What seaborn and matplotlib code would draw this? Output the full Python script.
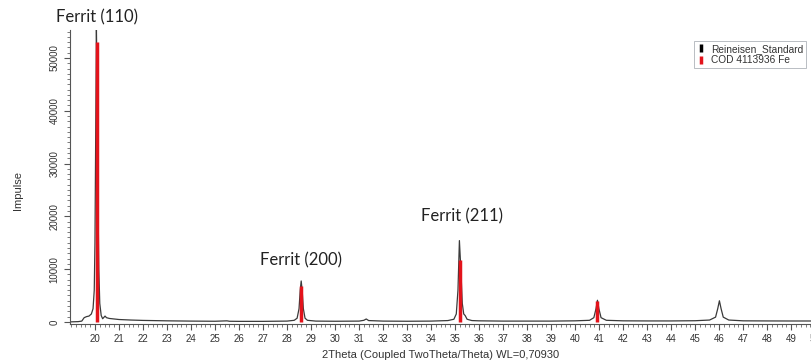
#---------------------------------
# step1: import libraries
#---------------------------------

import pandas as pd
import matplotlib
matplotlib.use("Agg")
import matplotlib.pyplot as plt
from matplotlib.lines import Line2D
from matplotlib.ticker import MultipleLocator
import seaborn as sns

sns.set_style("white")
plt.rcParams['font.family'] = ['Liberation Sans', 'DejaVu Sans']

#---------------------------------
# step2: data
#---------------------------------

# measured profile, Reineisen_Standard
two_theta = [18.96, 19.3, 19.45, 19.55, 19.65, 19.75, 19.85, 19.92, 19.97, 20.0, 20.03, 20.06, 20.09,
             20.12, 20.16, 20.2, 20.26, 20.32, 20.38, 20.42, 20.48, 20.6, 20.8, 21.0, 21.5, 22.0, 23.0,
             24.0, 25.0, 25.5, 25.6, 26.0, 27.0, 28.0, 28.3, 28.42, 28.5, 28.55, 28.59, 28.63, 28.68,
             28.75, 28.85, 29.2, 30.0, 31.0, 31.2, 31.3, 31.4, 32.0, 33.0, 34.0, 34.7, 34.95, 35.05,
             35.12, 35.18, 35.24, 35.3, 35.36, 35.42, 35.5, 35.7, 36.0, 37.0, 38.0, 39.0, 40.0, 40.6,
             40.78, 40.87, 40.93, 40.99, 41.08, 41.3, 42.0, 43.0, 44.0, 45.0, 45.6, 45.85, 45.94, 46.01,
             46.08, 46.17, 46.4, 47.0, 48.0, 49.0, 50.2]
impulse = [0, 50, 150, 800, 1000, 1100, 1500, 2500, 6000, 15000, 35000, 55500, 45000,
           25000, 10000, 3500, 1200, 600, 900, 1100, 800, 650, 550, 450, 350, 280, 200,
           150, 120, 200, 120, 100, 100, 150, 300, 700, 2500, 6000, 7750, 6000, 2500,
           700, 300, 150, 120, 150, 300, 550, 250, 150, 120, 150, 250, 500, 1500,
           6000, 15400, 10000, 3500, 1500, 1200, 500, 250, 200, 150, 150, 150, 200, 300,
           800, 2500, 4100, 2500, 800, 300, 200, 180, 180, 220, 350, 900, 2500, 4000,
           2500, 900, 350, 200, 180, 170, 170]

# reference lines, COD 4113936 Fe
cod_pos = [20.1, 28.6, 35.2, 40.93]
cod_int = [53000, 6800, 11800, 3900]

# peak labels
peak_names = ["Ferrit (110)", "Ferrit (200)", "Ferrit (211)"]
peak_x = [20.08, 28.58, 35.29]
peak_y = [57770, 11730, 20070]

df = pd.DataFrame({"2Theta": two_theta, "Impulse": impulse})

#---------------------------------
# step3: plot
#---------------------------------

fig = plt.figure(figsize=(8.12, 3.64), dpi=100)
ax = fig.add_axes([70/812, 40/364, 750/812, 294/364])

sns.lineplot(data=df, x="2Theta", y="Impulse", ax=ax, color="#3a3a3a", linewidth=0.9, zorder=2)
ax.vlines(cod_pos, 0, cod_int, color="#e3131b", linewidth=2.5, zorder=3)

for name, px, py in zip(peak_names, peak_x, peak_y):
    ax.text(px, py, name, ha="center", va="center", fontsize=12, color="#222222",
            family=["Lato", "DejaVu Sans"], clip_on=False)

ax.set_xlim(18.96, 50.2)
ax.set_ylim(-400, 55300)

ax.xaxis.set_major_locator(MultipleLocator(1))
ax.xaxis.set_minor_locator(MultipleLocator(0.2))
ax.yaxis.set_major_locator(MultipleLocator(10000))
ax.yaxis.set_minor_locator(MultipleLocator(1000))
ax.set_xticks(range(20, 51))
ax.tick_params(axis="both", which="major", direction="out", length=4, width=0.8,
               colors="#555555", labelsize=7, labelcolor="#333333", left=True, bottom=True)
ax.tick_params(axis="both", which="minor", direction="out", length=2, width=0.6,
               colors="#666666", left=True, bottom=True)
for lab in ax.get_yticklabels():
    lab.set_rotation(90)
    lab.set_va("center")

sns.despine(ax=ax, top=True, right=True)
ax.spines["left"].set_color("#555555")
ax.spines["bottom"].set_color("#555555")
ax.spines["left"].set_linewidth(0.8)
ax.spines["bottom"].set_linewidth(0.8)

ax.set_xlabel("")
ax.set_ylabel("")
fig.text(441/812, 1 - 355/364, "2Theta (Coupled TwoTheta/Theta) WL=0,70930",
         ha="center", va="center", fontsize=8, color="#333333")
fig.text(18/812, 1 - 190/364, "Impulse", ha="center", va="center", rotation=90,
         fontsize=8, color="#333333")

handles = [Line2D([], [], color="black", marker="|", linestyle="None", markersize=6, mew=2.5),
           Line2D([], [], color="#e3131b", marker="|", linestyle="None", markersize=6, mew=2.5)]
leg = fig.legend(handles, ["Reineisen_Standard", "COD 4113936 Fe"], loc="upper right",
                 bbox_to_anchor=(806/812, 1 - 41/364), fontsize=7.3, frameon=True,
                 fancybox=False, handlelength=0.6, handletextpad=0.7, borderpad=0.3,
                 labelspacing=0.1, borderaxespad=0)
leg.get_frame().set_edgecolor("#9aa0a8")
leg.get_frame().set_linewidth(0.6)
for t in leg.get_texts():
    t.set_color("#333333")

fig.savefig("out.png", dpi=100)
